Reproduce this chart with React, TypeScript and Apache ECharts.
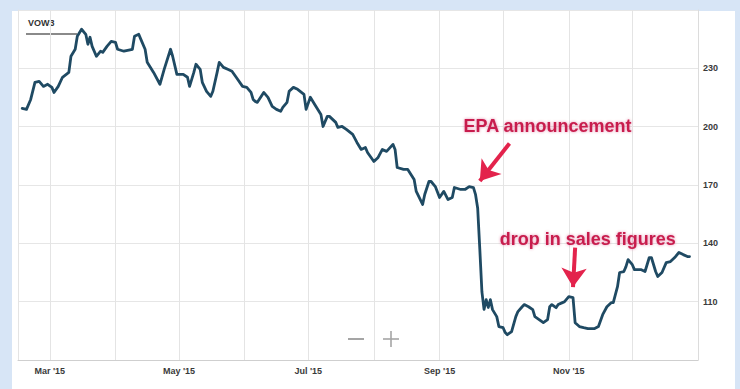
import React, { useEffect, useRef } from "react";
import * as echarts from "echarts";

const dates = [
  "2015-02-16","2015-02-18","2015-02-20","2015-02-22","2015-02-24","2015-02-26","2015-02-28",
  "2015-03-02","2015-03-03","2015-03-05","2015-03-07","2015-03-10","2015-03-11","2015-03-13",
  "2015-03-14","2015-03-16","2015-03-18","2015-03-19","2015-03-20","2015-03-21","2015-03-23",
  "2015-03-25","2015-03-26","2015-03-28","2015-03-30","2015-04-01","2015-04-02","2015-04-05",
  "2015-04-09","2015-04-10","2015-04-12","2015-04-13","2015-04-15","2015-04-16","2015-04-19",
  "2015-04-22","2015-04-24","2015-04-27","2015-04-28","2015-04-30","2015-05-03","2015-05-05",
  "2015-05-06","2015-05-08","2015-05-09","2015-05-11","2015-05-12","2015-05-14","2015-05-16",
  "2015-05-17","2015-05-19","2015-05-20","2015-05-22","2015-05-24","2015-05-26","2015-05-28",
  "2015-05-31","2015-06-02","2015-06-04","2015-06-05","2015-06-06","2015-06-07","2015-06-10",
  "2015-06-12","2015-06-14","2015-06-16","2015-06-18","2015-06-19","2015-06-21","2015-06-22",
  "2015-06-24","2015-06-26","2015-06-29","2015-06-30","2015-07-02","2015-07-04","2015-07-07",
  "2015-07-08","2015-07-10","2015-07-11","2015-07-14","2015-07-15","2015-07-17","2015-07-19",
  "2015-07-22","2015-07-24","2015-07-26","2015-07-28","2015-07-29","2015-08-01","2015-08-03",
  "2015-08-05","2015-08-07","2015-08-10","2015-08-11","2015-08-12","2015-08-15","2015-08-17",
  "2015-08-20","2015-08-21","2015-08-24","2015-08-25","2015-08-27","2015-08-28","2015-08-30",
  "2015-09-01","2015-09-03","2015-09-05","2015-09-07","2015-09-08","2015-09-11","2015-09-13",
  "2015-09-15","2015-09-17","2015-09-18","2015-09-19","2015-09-20","2015-09-21","2015-09-22",
  "2015-09-23","2015-09-24","2015-09-25","2015-09-26","2015-09-28","2015-09-29","2015-10-01",
  "2015-10-02","2015-10-03","2015-10-05","2015-10-07","2015-10-08","2015-10-10","2015-10-11",
  "2015-10-13","2015-10-15","2015-10-16","2015-10-18","2015-10-20","2015-10-22","2015-10-23",
  "2015-10-24","2015-10-26","2015-10-27","2015-10-29","2015-10-30","2015-11-01","2015-11-03",
  "2015-11-04","2015-11-06","2015-11-08","2015-11-10","2015-11-13","2015-11-15","2015-11-17",
  "2015-11-19","2015-11-21","2015-11-22","2015-11-24","2015-11-25","2015-11-27","2015-11-28",
  "2015-11-29","2015-12-01","2015-12-02","2015-12-05","2015-12-07","2015-12-09","2015-12-10",
  "2015-12-12","2015-12-13","2015-12-15","2015-12-17","2015-12-19","2015-12-21","2015-12-23",
  "2015-12-25","2015-12-27","2015-12-28",
];

const prices = [
  209.4, 208.9, 214, 222.8, 223.3, 220.7, 221.8,
  220.2, 217.6, 220.7, 225.4, 227.9, 236.2, 239.8,
  246.5, 250.1, 247.5, 242.4, 246, 241.3, 236.2,
  238.8, 238.2, 241.3, 243.9, 243.4, 239.8, 238.8,
  239.8, 246.5, 247.5, 244.9, 239.8, 233.1, 227.9,
  221.8, 229.5, 239.8, 236.2, 226.9, 226.9, 225.4,
  220.7, 227.9, 232.1, 229.5, 222.8, 218.2, 215.6,
  218.2, 227.9, 233.1, 230.5, 229.5, 228.5, 225.4,
  220.7, 220.2, 217.6, 214, 213, 212.5, 217.6,
  215.1, 210.4, 208.9, 207.9, 209.9, 212.5, 218.2,
  220.2, 219.2, 216.6, 208.9, 215.1, 211.5, 206.3,
  200.1, 205.3, 205.3, 202.2, 199.6, 200.1, 198.6,
  196, 191.9, 188.3, 189.3, 186.7, 182.1, 184.2,
  188.3, 187.3, 190.9, 188.3, 179, 178, 178,
  172.8, 166.7, 160, 165.1, 171.8, 171.8, 169.2,
  163.6, 166.7, 162.5, 163.6, 168.7, 167.7, 167.7,
  169.2, 168.7, 165, 158, 137, 115, 106,
  111, 107, 111, 105.9, 102.3, 97.2, 96.6,
  94.1, 93, 94.6, 102.3, 104.9, 107.4, 108.5,
  107.4, 105.9, 102.3, 100.8, 99.2, 100.8, 107.4,
  108.5, 106.9, 108.5, 109.5, 110, 112.6, 112.1,
  99.2, 97.2, 96.6, 96.1, 96.1, 97.2, 103.3,
  107.4, 109.5, 109.5, 117.7, 125, 125.5, 128,
  131.6, 129, 126.5, 126.5, 125.5, 132.7, 132.7,
  125.5, 122.9, 125, 130.1, 130.6, 132.7, 135.3,
  134.2, 133.2, 133.2,
];

const xMin = "2015-02-14";
const xMax = "2016-01-01";
const yMin = 80;
const yMax = 260;
const yStep = 30;
const labelMonths = [2, 4, 6, 8, 10];
const monthNames = ["Jan","Feb","Mar","Apr","May","Jun","Jul","Aug","Sep","Oct","Nov","Dec"];

const ticker = "VOW3";
const epaText = "EPA announcement";
const epaTextAt: [string, number] = ["2015-10-22", 200.6];
const epaArrowFrom: [string, number] = ["2015-10-04", 191.4];
const epaArrowTo: [string, number] = ["2015-09-20", 172];
const salesText = "drop in sales figures";
const salesTextAt: [string, number] = ["2015-11-10", 142];
const salesArrowFrom: [string, number] = ["2015-11-04", 137.8];
const salesArrowTo: [string, number] = ["2015-11-03", 117.5];

export default function App() {
  const ref = useRef<HTMLDivElement>(null);

  useEffect(() => {
    document.body.style.margin = "0";
    if (!ref.current) return;
    const chart = echarts.init(ref.current, undefined, { renderer: "svg" });
    const red = "#e3234c";
    const textRed = "#c81f4e";
    const font = "Liberation Sans, Arial, sans-serif";
    const annLabel = (text: string) => ({
      show: true,
      position: "inside" as const,
      formatter: text,
      color: textRed,
      fontSize: 18,
      fontWeight: "bold" as const,
      fontFamily: font,
      textShadowColor: "rgba(200,30,80,0.45)",
      textShadowBlur: 3,
    });
    chart.setOption({
      animation: false,
      backgroundColor: "transparent",
      grid: { left: 18, right: 42, top: 10, bottom: 29 },
      xAxis: {
        type: "time",
        min: xMin,
        max: xMax,
        splitNumber: 10,
        axisLine: { show: true, lineStyle: { color: "#cfcfcf", width: 1 } },
        axisTick: { show: false },
        splitLine: { show: true, lineStyle: { color: "#e4e4e4", width: 1 } },
        axisLabel: {
          margin: 6,
          color: "#3a3a3a",
          fontSize: 9,
          fontWeight: "bold",
          fontFamily: font,
          formatter: (val: number) => {
            const d = new Date(val);
            const m = d.getMonth();
            if (d.getDate() === 1 && labelMonths.includes(m) && d.getFullYear() === 2015) {
              return monthNames[m] + " '15";
            }
            return "";
          },
        },
      },
      yAxis: [
        {
          type: "value",
          position: "right",
          min: yMin,
          max: yMax,
          interval: yStep,
          axisLine: { show: true, lineStyle: { color: "#dcdcdc", width: 1 } },
          axisTick: { show: false },
          splitLine: { show: true, lineStyle: { color: "#e6e6e6", width: 1 } },
          axisLabel: {
            margin: 5,
            color: "#3a3a3a",
            fontSize: 9,
            fontWeight: "bold",
            fontFamily: font,
            showMinLabel: false,
            showMaxLabel: false,
          },
        },
        {
          type: "value",
          position: "left",
          min: yMin,
          max: yMax,
          interval: yStep,
          axisLine: { show: true, lineStyle: { color: "#e4e4e4", width: 1 } },
          axisTick: { show: false },
          splitLine: { show: false },
          axisLabel: { show: false },
        },
      ],
      series: [
        {
          type: "line",
          name: ticker,
          yAxisIndex: 0,
          data: dates.map((d, i) => [d, prices[i]]),
          showSymbol: false,
          symbol: "none",
          lineStyle: { color: "#1f4a63", width: 2.8, join: "round", cap: "round" },
          z: 3,
          markLine: {
            silent: true,
            symbol: ["none", "arrow"],
            symbolSize: 19,
            label: { show: false },
            lineStyle: { color: red, width: 4, type: "solid" },
            data: [
              [{ coord: epaArrowFrom }, { coord: epaArrowTo }],
              [{ coord: salesArrowFrom }, { coord: salesArrowTo }],
            ],
          },
          markPoint: {
            silent: true,
            symbol: "circle",
            symbolSize: 1,
            itemStyle: { color: "rgba(0,0,0,0)" },
            data: [
              { coord: epaTextAt, label: annLabel(epaText) },
              { coord: salesTextAt, label: annLabel(salesText) },
            ],
          },
        },
      ],
      graphic: [
        {
          type: "text",
          left: 28,
          top: 18,
          style: { text: ticker, fill: "#333", fontSize: 9, fontWeight: "bold", fontFamily: font },
        },
        {
          type: "line",
          shape: { x1: 26, y1: 34, x2: 77, y2: 34 },
          style: { stroke: "#8a8a8a", lineWidth: 2 },
        },
        {
          type: "line",
          shape: { x1: 348, y1: 339, x2: 364, y2: 339 },
          style: { stroke: "#a5a5a5", lineWidth: 2 },
        },
        {
          type: "line",
          shape: { x1: 383, y1: 339, x2: 399, y2: 339 },
          style: { stroke: "#a5a5a5", lineWidth: 1.6 },
        },
        {
          type: "line",
          shape: { x1: 391, y1: 331, x2: 391, y2: 347 },
          style: { stroke: "#a5a5a5", lineWidth: 1.6 },
        },
      ],
    });
    return () => chart.dispose();
  }, []);

  return (
    <div style={{ position: "relative", width: 740, height: 389, background: "#d7e5f6", overflow: "hidden" }}>
      <div style={{ position: "absolute", left: 12, top: 11, width: 723, height: 378, background: "#ffffff" }} />
      <div ref={ref} style={{ position: "absolute", left: 0, top: 0, width: 740, height: 389 }} />
    </div>
  );
}
